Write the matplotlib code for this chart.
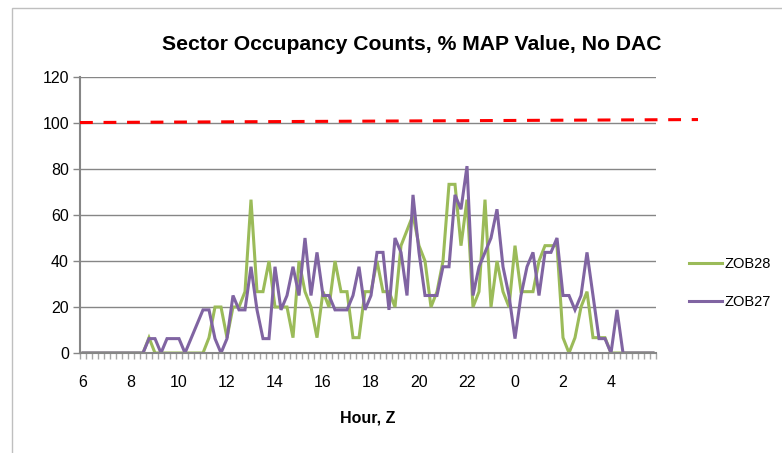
## sector occupancy counts, ZOB28 / ZOB27, 15 min bins from 06Z

import matplotlib
matplotlib.use("Agg")
import matplotlib.pyplot as plt
from matplotlib.patches import Rectangle
import numpy as np

# hour labels shown every 8 bins (2 h)
hour_labels = ["6", "8", "10", "12", "14", "16", "18", "20", "22", "0", "2", "4"]

zob28 = [0, 0, 0, 0, 0, 0, 0, 0, 0, 0, 0, 6.67, 0, 0, 0, 0,
         0, 0, 0, 0, 0, 6.67, 20, 20, 6.67, 20, 20, 26.67, 66.67, 26.67, 26.67, 40,
         20, 20, 20, 6.67, 40, 26.67, 20, 6.67, 26.67, 20, 40, 26.67, 26.67, 6.67, 6.67, 26.67,
         26.67, 40, 26.67, 26.67, 20, 46.67, 53.33, 60, 46.67, 40, 20, 26.67, 40, 73.33, 73.33, 46.67,
         66.67, 20, 26.67, 66.67, 20, 40, 26.67, 20, 46.67, 26.67, 26.67, 26.67, 40, 46.67, 46.67, 46.67,
         6.67, 0, 6.67, 20, 26.67, 6.67, 6.67, 6.67, 0, 0, 0, 0, 0, 0, 0, 0]

zob27 = [0, 0, 0, 0, 0, 0, 0, 0, 0, 0, 0, 6.25, 6.25, 0, 6.25, 6.25,
         6.25, 0, 6.25, 12.5, 18.75, 18.75, 6.25, 0, 6.25, 25, 18.75, 18.75, 37.5, 18.75, 6.25, 6.25,
         37.5, 18.75, 25, 37.5, 25, 50, 25, 43.75, 25, 25, 18.75, 18.75, 18.75, 25, 37.5, 18.75,
         25, 43.75, 43.75, 18.75, 50, 43.75, 25, 68.75, 43.75, 25, 25, 25, 37.5, 37.5, 68.75, 62.5,
         81.25, 25, 37.5, 43.75, 50, 62.5, 37.5, 25, 6.25, 25, 37.5, 43.75, 25, 43.75, 43.75, 50,
         25, 25, 18.75, 25, 43.75, 25, 6.25, 6.25, 0, 18.75, 0, 0, 0, 0, 0, 0]

map_start = 100.2
map_end = 101.5

green = "#9BBB59"
purple = "#8064A2"
grey = "#868686"

plt.rcParams["font.family"] = ["Liberation Sans", "DejaVu Sans"]

fig = plt.figure(figsize=(7.82, 4.53), dpi=100)
ax = fig.add_axes([80 / 782, 1 - 353 / 453, 576 / 782, 276 / 453])

x = np.arange(len(zob28))
ax.plot(x, zob28, color=green, lw=2.2, label="ZOB28", solid_joinstyle="miter")
ax.plot(x, zob27, color=purple, lw=2.2, label="ZOB27", solid_joinstyle="miter")

# MAP value line, runs a bit past the plot area
ax.plot([-0.5, 102.5], [map_start, map_end], color="#FF0000", lw=2.2,
        dashes=(4.2, 3.5), clip_on=False, zorder=4)

ax.set_xlim(-0.5, len(x) - 0.5)
ax.set_ylim(0, 120)
ax.set_yticks(np.arange(0, 121, 20))
ax.yaxis.grid(True, color=grey, lw=1)
ax.set_axisbelow(True)

ax.set_xticks(np.arange(0, len(x), 8))
ax.set_xticklabels(hour_labels)
ax.set_xticks(np.arange(-0.5, len(x), 1), minor=True)

for s in ["top", "right"]:
    ax.spines[s].set_visible(False)
for s in ["left", "bottom"]:
    ax.spines[s].set_color(grey)
    ax.spines[s].set_linewidth(1.5)

ax.tick_params(axis="y", colors=grey, labelcolor="black", labelsize=11.5,
               length=5, width=1, pad=3)
ax.tick_params(axis="x", which="major", length=0, labelsize=11.5, pad=16)
ax.tick_params(axis="x", which="minor", colors="#A6A6A6", length=4, width=1)

fig.text(0.527, 1 - 45 / 453, "Sector Occupancy Counts, % MAP Value, No DAC",
         ha="center", va="center", fontsize=15.2, fontweight="bold")
fig.text(368 / 782, 1 - 418 / 453, "Hour, Z", ha="center", va="center",
         fontsize=11.5, fontweight="bold")

fig.legend(loc="center left", bbox_to_anchor=(683 / 782, 1 - 283 / 453),
           frameon=False, fontsize=10.5, handlelength=2.25, handletextpad=0.2,
           labelspacing=1.6, borderaxespad=0)

# chart area border
fig.add_artist(Rectangle((12 / 782, -0.1), 1.0, 1 - 8 / 453 + 0.1,
                         transform=fig.transFigure, fill=False,
                         edgecolor="#BFBFBF", lw=1))

plt.savefig("out.png", dpi=100)
